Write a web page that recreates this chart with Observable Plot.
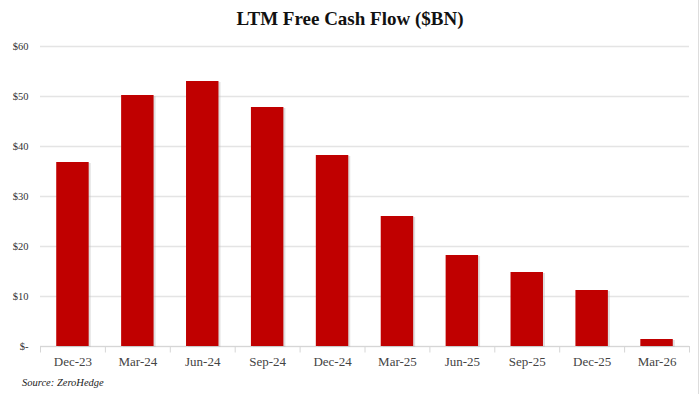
<!DOCTYPE html>
<html>
<head>
<meta charset="utf-8">
<script src="https://cdn.jsdelivr.net/npm/d3@7"></script>
<script src="https://cdn.jsdelivr.net/npm/@observablehq/plot@0.6"></script>
<style>
  html, body { margin: 0; padding: 0; background: #fff; }
  body { width: 700px; height: 394px; position: relative; overflow: hidden; font-family: "Liberation Serif", "DejaVu Serif", serif; }
  #title { height: 36px; line-height: 38px; text-align: center; font-weight: bold; font-size: 19px; color: #111; }
  #caption { position: absolute; left: 22px; top: 377px; font-style: italic; font-size: 10.5px; color: #222; }
  #frame { position: absolute; right: 1px; top: 0; width: 1px; height: 394px; background: #ddd; }
</style>
</head>
<body>
<div id="title">LTM Free Cash Flow ($BN)</div>
<div id="chart"></div>
<div id="caption">Source: ZeroHedge</div>
<div id="frame"></div>
<script>
const categories = ["Dec-23","Mar-24","Jun-24","Sep-24","Dec-24","Mar-25","Jun-25","Sep-25","Dec-25","Mar-26"];
const values = [36.8, 50.2, 53.0, 47.8, 38.2, 26.0, 18.2, 14.8, 11.2, 1.4];
const yTicks = [0, 10, 20, 30, 40, 50, 60];

const data = categories.map((c, i) => ({cat: c, v: values[i]}));

const W = 700, mL = 40, mR = 11;
const step = (W - mL - mR) / categories.length;

const plot = Plot.plot({
  width: W,
  height: 340,
  marginTop: 10,
  marginBottom: 30,
  marginLeft: mL,
  marginRight: mR,
  style: {fontFamily: "'Liberation Serif', 'DejaVu Serif', serif", color: "#444", background: "#fff"},
  x: {domain: categories, paddingInner: 0.5, paddingOuter: 0.25, round: false, label: null},
  y: {domain: [0, 60], label: null},
  marks: [
    Plot.gridY(yTicks, {stroke: "#e4e4e4", strokeOpacity: 1, strokeWidth: 1.3}),
    Plot.axisY(yTicks, {tickSize: 0, tickPadding: 12, fontSize: 10.5, fill: "#333",
      tickFormat: d => d === 0 ? "$-" : "$" + d, label: null}),
    Plot.axisX({tickSize: 0, tickPadding: 10, fontSize: 13, fill: "#444", label: null}),
    Plot.ruleY([0], {stroke: "#d6d6d6", strokeWidth: 1.2}),
    Plot.ruleX(categories, {x: d => d, y1: 0, y2: -1.3, dx: -step / 2, stroke: "#d6d6d6"}),
    Plot.ruleX([categories[categories.length - 1]], {x: d => d, y1: 0, y2: -1.3, dx: step / 2, stroke: "#d6d6d6"}),
    Plot.barY(data, {x: "cat", y: "v", fill: "#bbb", fillOpacity: 0.45, dx: 2, dy: 1}),
    Plot.barY(data, {x: "cat", y: "v", fill: "#C00000"})
  ]
});
document.getElementById("chart").appendChild(plot);
</script>
</body>
</html>
